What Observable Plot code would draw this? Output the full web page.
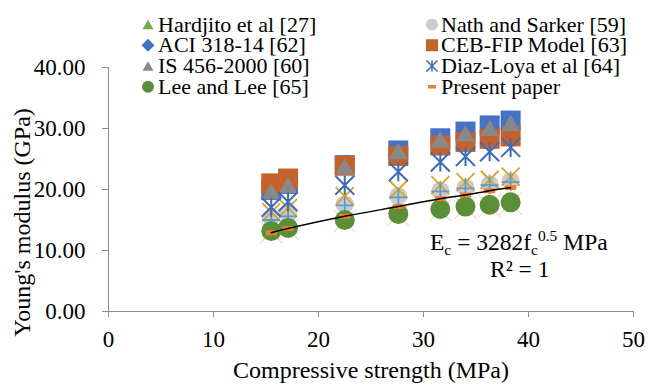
<!DOCTYPE html>
<html><head><meta charset="utf-8">
<script src="https://cdn.jsdelivr.net/npm/d3@7"></script>
<script src="https://cdn.jsdelivr.net/npm/@observablehq/plot@0.6"></script>
<style>
html,body{margin:0;padding:0;background:#fff;}
#wrap{position:relative;width:648px;height:389px;overflow:hidden;}
#wrap svg{position:absolute;left:0;top:0;}
#wrap svg, #wrap svg text{font-family:"Liberation Serif","Times New Roman",serif !important;}
</style></head><body><div id="wrap"></div>
<script>
// ---- data (GPa vs MPa) ----
const fc = [15.5, 17.1, 22.5, 27.6, 31.6, 34.0, 36.3, 38.3];
const hardjito   = [15.9, 16.5, 18.2, 19.5, 20.6, 21.1, 21.6, 22.2];
const nathSarker = [15.4, 16.0, 17.6, 18.9, 19.8, 20.3, 20.8, 21.4];
const extraTimes = [16.3, 17.0, 18.9, 20.0, 20.7, 21.2, 21.6, 22.1];
const extraPlus  = [15.0, 15.6, 17.4, 18.7, 19.7, 20.2, 20.7, 21.2];
const extraPink  = [13.0, 13.5, 14.8, 15.8, 16.6, 17.0, 17.3, 17.7];
const aci        = [19.9, 20.9, 24.0, 26.4, 28.4, 29.5, 30.5, 31.3];
const cebFip     = [21.0, 21.8, 23.9, 25.5, 27.2, 27.8, 28.3, 28.7];
const is456      = [19.7, 20.7, 23.8, 26.3, 28.2, 29.2, 30.1, 30.9];
const diazLoya   = [17.1, 18.0, 20.7, 22.9, 24.5, 25.4, 26.2, 26.9];
const leeLee     = [13.2, 13.7, 15.0, 16.0, 16.8, 17.2, 17.5, 17.9];
const present    = [12.9, 13.6, 15.6, 17.2, 18.5, 19.1, 19.8, 20.3];
const xTicks = [0, 10, 20, 30, 40, 50];
const yTicks = [0, 10, 20, 30, 40];
const legendLeft  = ["Hardjito et al [27]", "ACI 318-14 [62]", "IS 456-2000 [60]", "Lee and Lee [65]"];
const legendRight = ["Nath and Sarker [59]", "CEB-FIP Model [63]", "Diaz-Loya et al [64]", "Present paper"];
const xTitle = "Compressive strength (MPa)";
const yTitle = "Young's modulus (GPa)";

// ---- symbols ----
const R = s => Math.sqrt(s / Math.PI);
const SYM = {
  square:  {draw(c, s) { const r = R(s); c.rect(-r, -r, 2 * r, 2 * r); }},
  triangle:{draw(c, s) { const r = R(s), h = r * 0.866; c.moveTo(0, -h); c.lineTo(r, h); c.lineTo(-r, h); c.closePath(); }},
  diamond: {draw(c, s) { const r = R(s); c.moveTo(0, -r); c.lineTo(r, 0); c.lineTo(0, r); c.lineTo(-r, 0); c.closePath(); }},
  circle:  {draw(c, s) { const r = R(s); c.moveTo(r, 0); c.arc(0, 0, r, 0, 2 * Math.PI); }},
  star:    {draw(c, s) { const r = R(s); c.moveTo(-r, -r); c.lineTo(r, r); c.moveTo(-r, r); c.lineTo(r, -r); c.moveTo(0, -r); c.lineTo(0, r); }},
  times:   {draw(c, s) { const r = R(s); c.moveTo(-r, -r); c.lineTo(r, r); c.moveTo(-r, r); c.lineTo(r, -r); }},
  plus:    {draw(c, s) { const r = R(s); c.moveTo(-r, 0); c.lineTo(r, 0); c.moveTo(0, -r); c.lineTo(0, r); }},
  dash:    {draw(c, s) { const r = R(s); c.rect(-r, -r * 0.45, 2 * r, r * 0.9); }}
};
const C = {
  hardjito: "#70AD47", nath: "#CBCBCB", aci: "#4472C4", ceb: "#C5622B", is: "#888888",
  diaz: "#3E6CB8", lee: "#5B8F37", present: "#ED7D31", times: "#DDA521", plus: "#5B9BD5", pink: "#F6C3A5"
};
const mk = vals => fc.map((x, i) => ({x, y: vals[i]}));
const filled = (vals, symbol, r, fill) => Plot.dot(mk(vals), {x: "x", y: "y", symbol, r, fill, stroke: "none"});
const stroked = (vals, symbol, r, stroke, sw) => Plot.dot(mk(vals), {x: "x", y: "y", symbol, r, fill: "none", stroke, strokeWidth: sw});

const font = "Liberation Serif, Times New Roman, serif";
const chart = Plot.plot({
  width: 648, height: 389,
  marginLeft: 108, marginRight: 15, marginTop: 67, marginBottom: 78,
  x: {domain: [0, 50]},
  y: {domain: [0, 40]},
  style: {fontFamily: font, fontSize: "23px", color: "#000", background: "#fff", overflow: "visible"},
  marks: [
    Plot.ruleX([0], {stroke: "#8c8c8c"}),
    Plot.ruleY([0], {stroke: "#8c8c8c"}),
    Plot.axisY(yTicks, {tickSize: 6, tickPadding: 17, stroke: "#8c8c8c", fill: "#000", label: null, tickFormat: d3.format(".2f"), fontSize: 23}),
    Plot.axisX(xTicks, {tickSize: 6, tickPadding: 13, stroke: "#8c8c8c", fill: "#000", label: null, fontSize: 23}),
    Plot.text([xTitle], {frameAnchor: "bottom", lineAnchor: "bottom", dy: 66, fontSize: 24, fill: "#000"}),
    Plot.text([yTitle], {frameAnchor: "left", textAnchor: "middle", lineAnchor: "middle", rotate: -90, dx: -86, dy: 33, fontSize: 24, fill: "#000"}),
    filled(hardjito, SYM.triangle, 6.5, C.hardjito),
    filled(nathSarker, SYM.circle, 9, C.nath),
    stroked(extraPink, SYM.times, 11, C.pink, 1),
    stroked(extraTimes, SYM.times, 9, C.times, 1.8),
    stroked(extraPlus, SYM.plus, 9, C.plus, 1.8),
    filled(aci, SYM.square, 10, C.aci),
    filled(cebFip, SYM.square, 10, C.ceb),
    filled(is456, SYM.triangle, 9.5, C.is),
    stroked(diazLoya, SYM.star, 9.5, C.diaz, 2),
    filled(leeLee, SYM.circle, 10, C.lee),
    filled(present, SYM.dash, 5.5, C.present),
    Plot.line(mk(present), {x: "x", y: "y", stroke: "#000", strokeWidth: 1.5, curve: "natural"})
  ]
});
const wrap = document.getElementById("wrap");
wrap.appendChild(chart);

// ---- overlay: legend + equation ----
const ov = d3.create("svg").attr("width", 648).attr("height", 389).style("font-family", font);
const legendSyms = [
  [SYM.triangle, 5.5, C.hardjito], [SYM.diamond, 6.5, C.aci], [SYM.triangle, 5.5, C.is], [SYM.circle, 6, C.lee]
];
const legendSymsR = [
  [SYM.circle, 6, C.nath], [SYM.square, 6, C.ceb], [SYM.star, 5.5, C.diaz, true], [SYM.dash, 4, C.present]
];
function drawCol(labels, syms, mx, tx) {
  labels.forEach((lab, i) => {
    const by = 31.5 + 20.75 * i;
    const [s, r, col, isStroke] = syms[i];
    ov.append("path")
      .attr("d", d3.symbol(s, Math.PI * r * r)())
      .attr("transform", `translate(${mx},${by - 7})`)
      .attr("fill", isStroke ? "none" : col)
      .attr("stroke", isStroke ? col : "none")
      .attr("stroke-width", isStroke ? 1.6 : 0);
    ov.append("text").attr("x", tx).attr("y", by).attr("font-size", 22).attr("fill", "#000").text(lab);
  });
}
drawCol(legendLeft, legendSyms, 148, 158);
drawCol(legendRight, legendSymsR, 432, 441);

const eq = ov.append("text").attr("x", 430).attr("y", 250).attr("font-size", 23.5).attr("fill", "#000");
eq.append("tspan").text("E");
eq.append("tspan").attr("font-size", 15.5).attr("dy", 5).text("c");
eq.append("tspan").attr("dy", -5).text(" = 3282f");
eq.append("tspan").attr("font-size", 15.5).attr("dy", 5).text("c");
eq.append("tspan").attr("font-size", 15.5).attr("dy", -14).text("0.5");
eq.append("tspan").attr("dy", 9).text(" MPa");
ov.append("text").attr("x", 490).attr("y", 277).attr("font-size", 23.5).attr("fill", "#000").text("R² = 1");
wrap.appendChild(ov.node());
</script></body></html>
